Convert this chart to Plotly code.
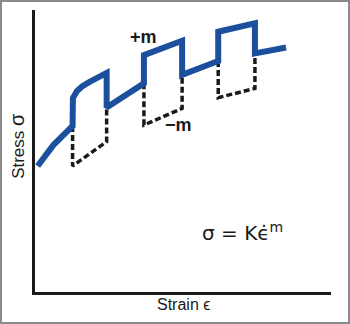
import plotly.graph_objects as go

# Stress-strain response under strain-rate jumps (arbitrary units)
strain = [0.09, 0.62, 1.27, 1.28, 1.42, 1.59, 1.86, 2.20, 2.42, 2.42, 3.68, 3.68,
          4.97, 4.97, 6.19, 6.19, 7.43, 7.43, 8.48]
stress = [4.47, 5.21, 5.89, 6.88, 7.13, 7.29, 7.46, 7.63, 7.77, 6.54, 7.40, 8.40,
          8.91, 7.70, 8.19, 9.23, 9.53, 8.46, 8.67]

# Rate drops (dashed excursions), one path per jump
drop_strain = [1.27, 1.27, 2.42, 2.42, None,
               3.68, 3.68, 4.97, 4.97, None,
               6.19, 6.19, 7.43, 7.43]
drop_stress = [5.89, 4.47, 5.33, 6.54, None,
               7.40, 5.92, 6.51, 7.70, None,
               8.19, 6.89, 7.22, 8.46]

BLUE = "#1c4f9e"
INK = "#1a1a1a"

fig = go.Figure()
fig.add_trace(go.Scatter(
    x=drop_strain, y=drop_stress, mode="lines",
    line=dict(color=INK, width=3.5, dash="6px,3px"),
    connectgaps=False, hoverinfo="skip", showlegend=False))
fig.add_trace(go.Scatter(
    x=strain, y=stress, mode="lines",
    line=dict(color=BLUE, width=6),
    hoverinfo="skip", showlegend=False))

label_font = dict(family="Liberation Sans, Arial, sans-serif", size=16, color=INK)
bold_font = dict(family="Liberation Sans, Arial, sans-serif", size=18, color=INK)

annotations = [
    dict(x=3.65, y=9.04, xref="x", yref="y", text="<b>+m</b>",
         showarrow=False, font=bold_font),
    dict(x=4.85, y=5.92, xref="x", yref="y", text="<b>\u2212m</b>",
         showarrow=False, font=bold_font),
    dict(x=7.0, y=2.13, xref="x", yref="y",
         text="\u03c3 = K\u03f5\u0307<sup>m</sup>",
         showarrow=False,
         font=dict(family="DejaVu Sans, sans-serif", size=20, color=INK)),
    dict(x=-0.061, y=0.518, xref="paper", yref="paper",
         text="Stress <span style='font-size:20px'>\u03c3</span>",
         xanchor="center", yanchor="middle",
         textangle=-90, showarrow=False,
         font=dict(family="Liberation Sans, Arial, sans-serif", size=17, color=INK)),
    dict(x=0.5, y=-0.043, xref="paper", yref="paper", text="Strain \u03f5",
         xanchor="center", yanchor="middle",
         showarrow=False, font=label_font),
]

axis_common = dict(showgrid=False, zeroline=False, showticklabels=False,
                   ticks="", showline=True, linecolor=INK, linewidth=3,
                   mirror=False, fixedrange=True)

fig.update_layout(
    width=350, height=324,
    margin=dict(l=35, r=19, t=10, b=32),
    paper_bgcolor="white", plot_bgcolor="white",
    xaxis=dict(range=[0, 10], **axis_common),
    yaxis=dict(range=[0, 10], **axis_common),
    annotations=annotations,
    shapes=[dict(type="rect", xref="paper", yref="paper",
                 x0=-34/296, x1=349/296 - 35/296,
                 y0=(292-323)/282, y1=(292-1)/282,
                 line=dict(color="#8a8a8a", width=2), layer="above")],
)

fig.write_html("out.html")
